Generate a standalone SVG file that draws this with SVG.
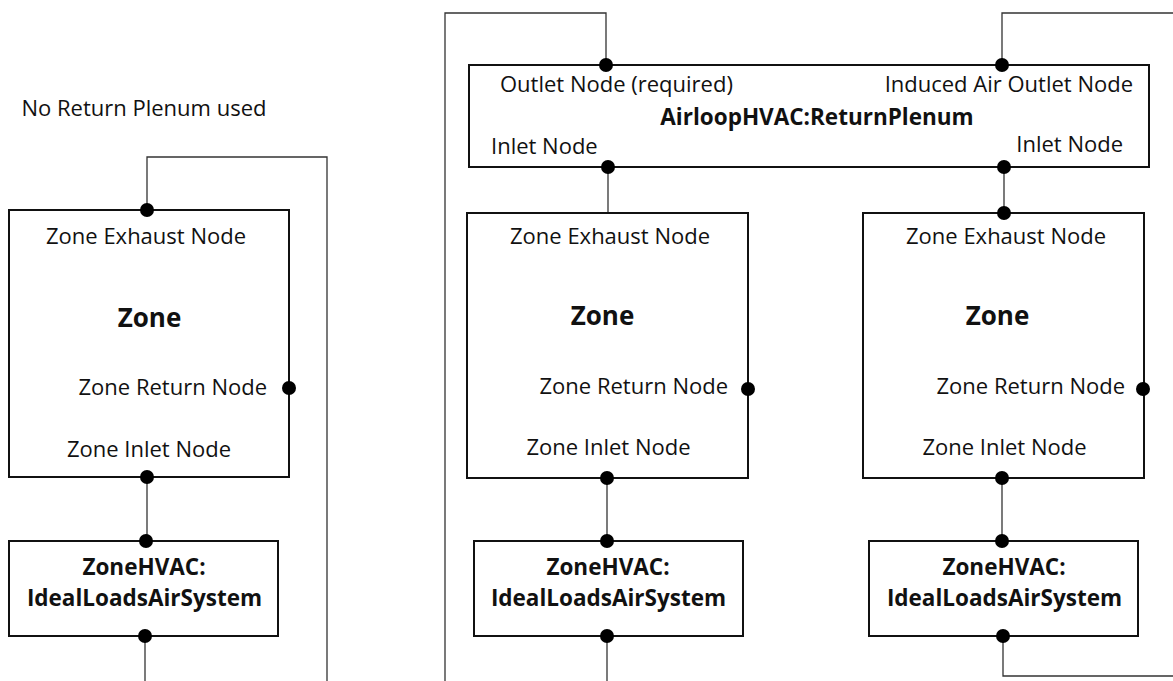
<svg xmlns="http://www.w3.org/2000/svg" width="1173" height="681" viewBox="0 0 1173 681">
<style>
.box{fill:#fff;stroke:#111;stroke-width:2}
.wire{fill:none;stroke:#333;stroke-width:1.3}
.dot{fill:#000}
text{font-family:"Open Sans","Noto Sans",sans-serif;fill:#111}
.r{font-size:22px}
.b{font-size:22.5px;font-weight:bold}
.bz{font-size:26px;font-weight:bold}
.m{text-anchor:middle}
.e{text-anchor:end}
</style>
<rect width="1173" height="681" fill="#fff"/>
<g id="connectors">
<polyline class="wire" points="147,210 147,157 327,157 327,681"/>
<line class="wire" x1="147" y1="477" x2="147" y2="541"/>
<line class="wire" x1="145" y1="636" x2="145" y2="681"/>
<polyline class="wire" points="445,681 445,13 606,13 606,65"/>
<polyline class="wire" points="1002,65 1002,13 1173,13"/>
<line class="wire" x1="608" y1="167" x2="608" y2="213"/>
<line class="wire" x1="1004" y1="167" x2="1004" y2="213"/>
<line class="wire" x1="607" y1="478" x2="607" y2="541"/>
<line class="wire" x1="607" y1="636" x2="607" y2="681"/>
<line class="wire" x1="1002" y1="478" x2="1002" y2="541"/>
<polyline class="wire" points="1003,636 1003,676 1173,676"/>
</g>
<g id="label-no-plenum">
<text class="r m" x="144" y="116">No Return Plenum used</text>
</g>
<g id="zone-left">
<rect class="box" x="9" y="210" width="280" height="267"/>
<text class="r m" x="146" y="244">Zone Exhaust Node</text>
<text class="bz m" x="149.5" y="327">Zone</text>
<text class="r e" x="267" y="395">Zone Return Node</text>
<text class="r m" x="149" y="457">Zone Inlet Node</text>
<circle class="dot" cx="147" cy="210" r="7"/>
<circle class="dot" cx="289" cy="388" r="7"/>
<circle class="dot" cx="147" cy="477" r="7"/>
</g>
<g id="ideal-left">
<rect class="box" x="9" y="541" width="269" height="95"/>
<text class="b m" x="144" y="575">ZoneHVAC:</text>
<text class="b m" x="144.5" y="606">IdealLoadsAirSystem</text>
<circle class="dot" cx="146" cy="541" r="7"/>
<circle class="dot" cx="145" cy="636" r="7"/>
</g>
<g id="plenum">
<rect class="box" x="469" y="65" width="680" height="102"/>
<text class="r" x="500" y="92">Outlet Node (required)</text>
<text class="r e" x="1133" y="92">Induced Air Outlet Node</text>
<text class="b m" x="817" y="125">AirloopHVAC:ReturnPlenum</text>
<text class="r" x="491" y="154">Inlet Node</text>
<text class="r e" x="1123" y="152">Inlet Node</text>
<circle class="dot" cx="606" cy="65" r="7"/>
<circle class="dot" cx="1002" cy="65" r="7"/>
<circle class="dot" cx="608" cy="167" r="7"/>
<circle class="dot" cx="1004" cy="167" r="7"/>
</g>
<g id="zone-mid">
<rect class="box" x="467" y="213" width="281" height="265"/>
<text class="r m" x="610" y="244">Zone Exhaust Node</text>
<text class="bz m" x="602.5" y="325">Zone</text>
<text class="r e" x="728" y="394">Zone Return Node</text>
<text class="r m" x="608.5" y="455">Zone Inlet Node</text>
<circle class="dot" cx="748" cy="389" r="7"/>
<circle class="dot" cx="607" cy="478" r="7"/>
</g>
<g id="ideal-mid">
<rect class="box" x="474" y="541" width="269" height="95"/>
<text class="b m" x="608" y="575">ZoneHVAC:</text>
<text class="b m" x="608.5" y="606">IdealLoadsAirSystem</text>
<circle class="dot" cx="607" cy="541" r="7"/>
<circle class="dot" cx="607" cy="636" r="7"/>
</g>
<g id="zone-right">
<rect class="box" x="863" y="213" width="281" height="265"/>
<text class="r m" x="1006" y="244">Zone Exhaust Node</text>
<text class="bz m" x="997.5" y="325">Zone</text>
<text class="r e" x="1125" y="394">Zone Return Node</text>
<text class="r m" x="1004.5" y="455">Zone Inlet Node</text>
<circle class="dot" cx="1004" cy="213" r="7"/>
<circle class="dot" cx="1143" cy="389" r="7"/>
<circle class="dot" cx="1002" cy="478" r="7"/>
</g>
<g id="ideal-right">
<rect class="box" x="869" y="541" width="269" height="95"/>
<text class="b m" x="1004" y="575">ZoneHVAC:</text>
<text class="b m" x="1004.5" y="606">IdealLoadsAirSystem</text>
<circle class="dot" cx="1002" cy="541" r="7"/>
<circle class="dot" cx="1003" cy="636" r="7"/>
</g>
</svg>
